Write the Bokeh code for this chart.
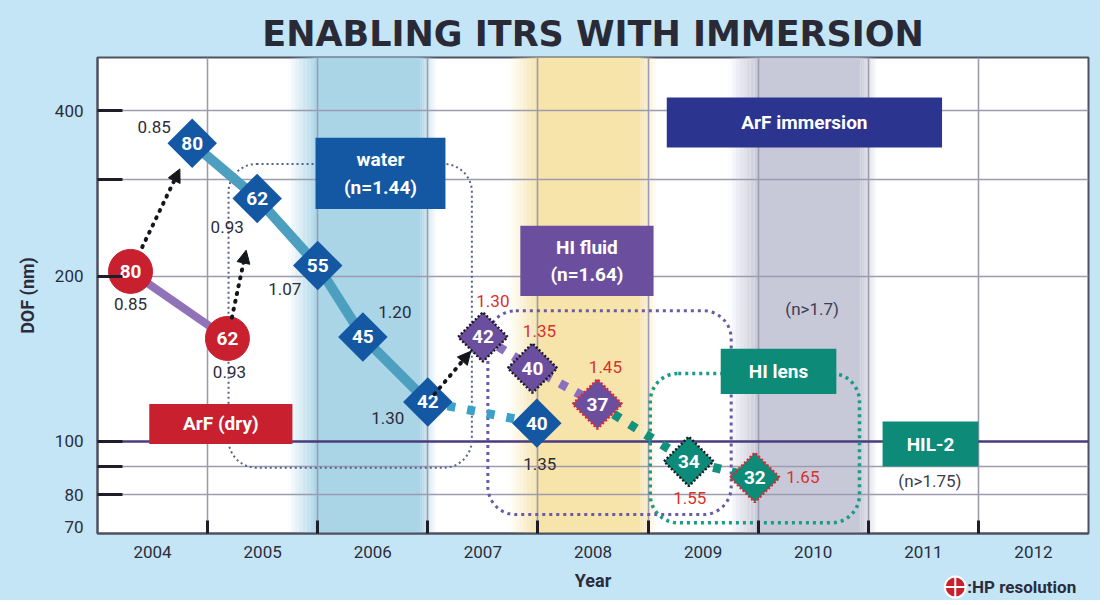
import math
from bokeh.plotting import figure
from bokeh.layouts import column
from bokeh.models import (ColumnDataSource, FixedTicker, NumeralTickFormatter, Span,
                          BoxAnnotation, Arrow, NormalHead, Label)
from bokeh.core.properties import value
from bokeh.embed import file_html
from bokeh.resources import INLINE

# ---------------- data ----------------
years = [2004, 2005, 2006, 2007, 2008, 2009, 2010, 2011, 2012]
dof_ticks = [70, 80, 100, 200, 400]

# ArF (dry)
dry_year = [2003.80, 2004.68]
dry_dof = [204, 154]
dry_hp = [80, 62]
dry_na = [0.85, 0.93]

# ArF immersion: water (n=1.44)
water_year = [2004.36, 2004.95, 2005.50, 2005.91, 2006.50, 2007.49]
water_dof = [349, 277, 209, 155, 118, 108]
water_hp = [80, 62, 55, 45, 42, 40]
water_na = [0.85, 0.93, 1.07, 1.20, 1.30, 1.35]

# HI fluid (n=1.64)
fluid_year = [2007.00, 2007.45, 2008.04]
fluid_dof = [155, 136, 117]
fluid_hp = [42, 40, 37]
fluid_na = [1.30, 1.35, 1.45]

# HI lens
lens_year = [2008.87, 2009.47]
lens_dof = [92, 86]
lens_hp = [34, 32]
lens_na = [1.55, 1.65]

# technology eras (shaded year bands)
band_start = [2005.5, 2007.5, 2009.5]

# ---------------- layout / style ----------------
FONT = "Roboto"
DARK = "#2c2c3a"
BG = "#c3e5f6"
band_color = ["#a9d5e7", "#f6e4ab", "#c7c9d8"]

box_text = ["ArF (dry)", "water\n(n=1.44)", "HI fluid\n(n=1.64)", "ArF immersion", "HI lens", "HIL-2"]
box_left = [2003.97, 2005.48, 2007.34, 2008.67, 2009.16, 2010.63]
box_right = [2005.27, 2006.66, 2008.55, 2011.17, 2010.21, 2011.50]
box_top = [117, 357, 247, 423, 147.5, 108.7]
box_bottom = [99, 265, 184, 343, 122, 90]
box_color = ["#c8202f", "#1458a3", "#6b4f9e", "#2b3590", "#0e8a78", "#0e8a78"]

group_left = [2004.69, 2007.045, 2008.52]
group_right = [2006.90, 2009.255, 2010.42]
group_top = [320, 173, 133]
group_bottom = [89.6, 73.6, 71.1]
group_color = ["#58618a", "#6a5aa6", "#1a9a88"]
group_width = [2, 3, 3.5]
group_dash = ["2 3", "3 4", "3 4"]

dry_off = [(0, 33), (2, 34)]
water_off = [(-38, -16), (-30, 29), (-33, 23), (32, -25), (-40, 16), (3, 41)]
fluid_off = [(10, -36), (7, -37), (8, -37)]
lens_off = [(1, 37), (48, 0)]

key_pos = (2011.29, 0.42)   # legend key location in the bottom strip

p = figure(width=1100, height=568, x_range=(2003.5, 2012.5), y_range=(68, 500),
           y_axis_type="log", output_backend="svg", toolbar_location=None,
           min_border_left=97, min_border_right=12, min_border_top=57, min_border_bottom=35,
           background_fill_color="white", border_fill_color=BG)

p.title.text = "ENABLING ITRS WITH IMMERSION"
p.title.align = "center"
p.title.text_font = "DejaVu Sans"
p.title.text_font_size = "35px"
p.title.text_font_style = "bold"
p.title.text_color = "#2a2a36"
p.title.standoff = 7

p.outline_line_color = "#505060"
p.outline_line_width = 2

# shaded era bands with soft edges
qx0, qx1, qc, qa = [], [], [], []
for b, c in zip(band_start, band_color):
    n = 8
    fin, core, fout = 0.27, 0.93, 0.15
    for i in range(n):
        qx0.append(b - fin + fin * i / n); qx1.append(b - fin + fin * (i + 1) / n)
        qc.append(c); qa.append((i + 0.5) / n)
    qx0.append(b); qx1.append(b + core); qc.append(c); qa.append(1.0)
    for i in range(n):
        qx0.append(b + core + fout * i / n); qx1.append(b + core + fout * (i + 1) / n)
        qc.append(c); qa.append(1 - (i + 0.5) / n)
band_src = ColumnDataSource(dict(left=qx0, right=qx1, color=qc, alpha=qa))
p.quad(left="left", right="right", top=600, bottom=60, fill_color="color", fill_alpha="alpha",
       line_color=None, source=band_src, level="image")

# axes & grid
p.xaxis.ticker = FixedTicker(ticks=years, minor_ticks=[y + 0.5 for y in years[:-1]])
p.xgrid.ticker = FixedTicker(ticks=[y + 0.5 for y in years[:-1]])
p.yaxis.ticker = FixedTicker(ticks=dof_ticks, minor_ticks=[80, 90, 100, 200, 300, 400])
p.ygrid.ticker = FixedTicker(ticks=[80, 90, 200, 300, 400])
p.yaxis.formatter = NumeralTickFormatter(format="0")
for g in (p.xgrid, p.ygrid):
    g.grid_line_color = "#9c9cae"
    g.grid_line_width = 1.6
for ax in (p.xaxis, p.yaxis):
    ax.major_tick_line_color = None
    ax.minor_tick_out = 0
    ax.minor_tick_line_width = 3
    ax.minor_tick_line_color = "#1e1e28"
    ax.axis_line_color = "#505060"
    ax.axis_line_width = 2
    ax.major_label_text_font = FONT
    ax.major_label_text_font_size = "17px"
    ax.major_label_text_color = DARK
    ax.axis_label_text_font = FONT
    ax.axis_label_text_font_size = "18px"
    ax.axis_label_text_font_style = "bold"
    ax.axis_label_text_color = DARK
p.xaxis.minor_tick_in = 13
p.yaxis.minor_tick_in = 25
p.xaxis.major_label_standoff = 6
p.yaxis.major_label_standoff = 8
p.yaxis.axis_label = "DOF (nm)"
p.yaxis.axis_label_standoff = 14

p.add_layout(Span(location=100, dimension="width", line_color="#4a3b7c", line_width=2.5,
                  level="underlay"))

# dotted rounded group outlines
for l, r, t, b, c, w, d in zip(group_left, group_right, group_top, group_bottom, group_color,
                               group_width, group_dash):
    p.add_layout(BoxAnnotation(left=l, right=r, top=t, bottom=b, fill_color=None, fill_alpha=0,
                               line_color=c, line_alpha=1, line_width=w, line_dash=d,
                               border_radius=28, level="underlay"))

# connecting lines
p.line(dry_year, dry_dof, line_color="#8f72b8", line_width=8)
p.line(water_year[:5], water_dof[:5], line_color="#4d9fc0", line_width=10)
p.line(water_year[4:], water_dof[4:], line_color="#3aa2c9", line_width=9, line_dash="8 12")
p.line(fluid_year, fluid_dof, line_color="#8a6fc0", line_width=9, line_dash="8 10")
p.line([fluid_year[-1]] + lens_year, [fluid_dof[-1]] + lens_dof, line_color="#14917c",
       line_width=9, line_dash="8 11")


# dotted arrows (dry -> water, water -> HI fluid)
def interp(x0, y0, x1, y1, t):
    return x0 + (x1 - x0) * t, 10 ** (math.log10(y0) + (math.log10(y1) - math.log10(y0)) * t)


arrow_pairs = [((dry_year[0], dry_dof[0]), (water_year[0], water_dof[0]), 0.19, 0.80),
               ((dry_year[1], dry_dof[1]), (water_year[1], water_dof[1]), 0.15, 0.63),
               ((water_year[4], water_dof[4]), (fluid_year[0], fluid_dof[0]), 0.12, 0.78)]
for (xa, ya), (xb, yb), t0, t1 in arrow_pairs:
    xs, ys = interp(xa, ya, xb, yb, t0)
    xe, ye = interp(xa, ya, xb, yb, t1)
    p.add_layout(Arrow(end=NormalHead(size=13, fill_color="#15151c", line_color="#15151c"),
                       x_start=xs, y_start=ys, x_end=xe, y_end=ye, line_color="#15151c",
                       line_width=4, line_dash="1 7", line_cap="round"))

# markers
p.scatter(dry_year, dry_dof, marker="circle", size=44, fill_color="#c8202f", line_color="#c8202f")
p.scatter(water_year, water_dof, marker="square", angle=math.pi / 4, size=35,
          fill_color="#1458a3", line_color=None)
p.scatter(fluid_year, fluid_dof, marker="square", angle=math.pi / 4, size=35,
          fill_color="#6b4f9e", line_color=["#1a1a22", "#1a1a22", "#e0262e"], line_width=2.5,
          line_dash="2 2")
p.scatter(lens_year, lens_dof, marker="square", angle=math.pi / 4, size=35,
          fill_color="#0e8a78", line_color=["#1a1a22", "#e0262e"], line_width=2.5,
          line_dash="2 2")

# values inside markers and NA labels
series = [(dry_year, dry_dof, dry_hp, dry_na, dry_off, DARK),
          (water_year, water_dof, water_hp, water_na, water_off, DARK),
          (fluid_year, fluid_dof, fluid_hp, fluid_na, fluid_off, "#d8312c"),
          (lens_year, lens_dof, lens_hp, lens_na, lens_off, "#d8312c")]
for xs, ys, hp, na, off, col in series:
    p.text(xs, ys, text=[str(h) for h in hp], text_color="white", text_font=value(FONT),
           text_font_size="19px", text_font_style="bold", text_align="center",
           text_baseline="middle")
    p.text(xs, ys, text=[f"{v:.2f}" for v in na], x_offset=[o[0] for o in off],
           y_offset=[o[1] for o in off], text_color=col, text_font=value(FONT),
           text_font_size="17px", text_align="center", text_baseline="middle")

# label boxes
p.quad(left=box_left, right=box_right, top=box_top, bottom=box_bottom, fill_color=box_color,
       line_color=None)
cx = [(a + b) / 2 for a, b in zip(box_left, box_right)]
cy = [math.sqrt(a * b) for a, b in zip(box_top, box_bottom)]
p.text(cx, cy, text=box_text, text_color="white", text_font=value(FONT), text_font_size="19px",
       text_font_style="bold", text_align="center", text_baseline="middle", text_line_height=1.2)

p.text([2009.99, 2011.06], [174, 84.8], text=["(n>1.7)", "(n>1.75)"], text_color="#3c3c50",
       text_font=value(FONT), text_font_size="17px", text_align="center", text_baseline="middle")

# ---- bottom strip: x-axis title and key (same x scale as the chart) ----
p2 = figure(width=1100, height=32, x_range=p.x_range, y_range=(0, 1), output_backend="svg",
            toolbar_location=None, x_axis_location=None, y_axis_location=None,
            min_border_left=97, min_border_right=12, min_border_top=0, min_border_bottom=0,
            background_fill_color=BG, background_fill_alpha=0, border_fill_color=BG,
            outline_line_color=None)
p2.grid.visible = False
p2.add_layout(Label(x=(p.x_range.start + p.x_range.end) / 2, y=0.62, text="Year",
                    text_font=FONT, text_font_size="18px", text_font_style="bold",
                    text_color=DARK, text_align="center", text_baseline="middle"))
p2.scatter(x=[key_pos[0]], y=[key_pos[1]], marker="circle_cross", size=21,
           fill_color="#c8202f", line_color="white", line_width=2)
p2.text(x=[key_pos[0]], y=[key_pos[1]], text=[":HP resolution"], x_offset=12,
        text_font=value(FONT), text_font_size="17px", text_font_style="bold",
        text_color=DARK, text_baseline="middle")

layout = column(p, p2, spacing=0, styles={"background-color": BG})
open("out.html", "w").write(file_html(layout, INLINE))
